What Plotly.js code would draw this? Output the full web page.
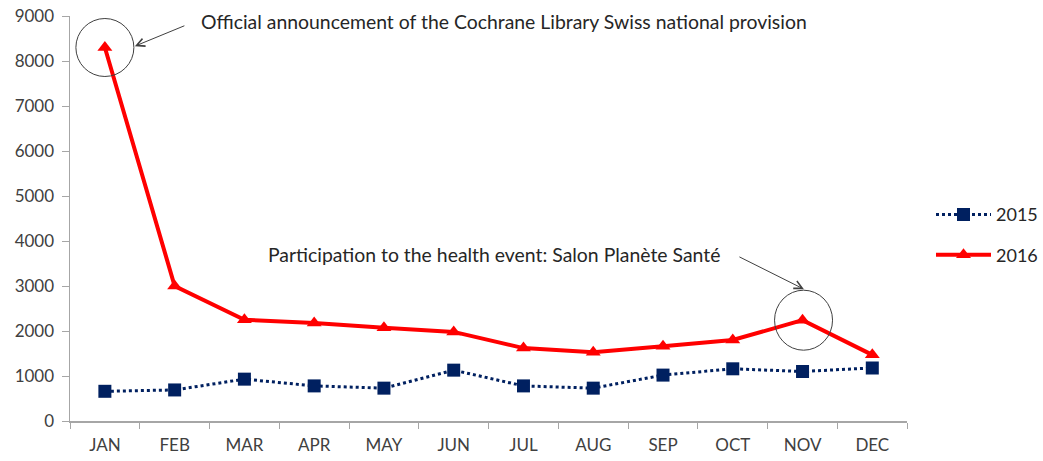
<!DOCTYPE html>
<html>
<head>
<meta charset="utf-8">
<script src="https://cdn.plot.ly/plotly-3.0.1.min.js"></script>
<style>html,body{margin:0;padding:0;background:#fff}#chart{width:1043px;height:461px}</style>
</head>
<body>
<div id="chart"></div>
<script>
const months = ["JAN","FEB","MAR","APR","MAY","JUN","JUL","AUG","SEP","OCT","NOV","DEC"];
const values2015 = [660, 690, 930, 780, 730, 1130, 780, 730, 1020, 1160, 1100, 1180];
const values2016 = [8300, 3000, 2250, 2180, 2070, 1980, 1620, 1530, 1660, 1800, 2240, 1470];
const seriesNames = ["2015", "2016"];
const yTicks = [0,1000,2000,3000,4000,5000,6000,7000,8000,9000];
const note1 = "Official announcement of the Cochrane Library Swiss national provision";
const note2 = "Participation to the health event: Salon Planète Santé";

const FONT = "Lato, 'Liberation Sans', sans-serif";
const traces = [
  {x: months, y: values2015, name: seriesNames[0], type: "scatter", mode: "lines+markers",
   legendgroup: "a",
   line: {color: "#002060", width: 3, dash: "dot"},
   marker: {symbol: "square", size: 13, color: "#002060"}},
  {x: months, y: values2016, name: seriesNames[1], type: "scatter", mode: "lines+markers",
   legendgroup: "b",
   line: {color: "#FF0000", width: 4},
   marker: {symbol: "triangle-up", size: 13, color: "#FF0000"}}
];
const layout = {
  width: 1043, height: 461,
  margin: {l: 70, r: 0, t: 16, b: 40},
  paper_bgcolor: "#fff", plot_bgcolor: "#fff",
  font: {family: FONT, size: 17, color: "#404040"},
  showlegend: true,
  legend: {x: 0.886, xanchor: "left", y: 0.46, yanchor: "middle", traceorder: "grouped",
           itemwidth: 55,
           tracegroupgap: 14, font: {size: 18, color: "#262626"}, bgcolor: "rgba(0,0,0,0)"},
  xaxis: {type: "category", domain: [0, 0.8613], showgrid: false, zeroline: false, showline: true,
          linecolor: "#A6A6A6",
          linewidth: 1.5, ticks: "outside", tickson: "boundaries", ticklen: 6, tickcolor: "#A6A6A6",
          ticklabelstandoff: 8,
          tickfont: {size: 17, color: "#404040"}, range: [-0.5, 11.5], fixedrange: true},
  yaxis: {range: [0, 9000], tickvals: yTicks, showgrid: false, zeroline: false, showline: true,
          linecolor: "#A6A6A6", linewidth: 1.5, ticks: "outside", ticklen: 7, tickcolor: "#A6A6A6",
          ticklabelstandoff: 4,
          tickfont: {size: 17, color: "#404040"}, fixedrange: true},
  shapes: [
    {type: "circle", xref: "x", yref: "y", xsizemode: "pixel", ysizemode: "pixel",
     xanchor: 0, yanchor: values2016[0], x0: -29, x1: 29, y0: -29, y1: 29,
     line: {color: "#404040", width: 1}},
    {type: "circle", xref: "x", yref: "y", xsizemode: "pixel", ysizemode: "pixel",
     xanchor: 10, yanchor: values2016[10], x0: -28, x1: 30, y0: -30, y1: 30,
     line: {color: "#404040", width: 1}}
  ],
  annotations: [
    {xref: "x", yref: "y", x: 1.35, y: 8870, xanchor: "left", yanchor: "middle", showarrow: false,
     text: note1, font: {size: 19.4, color: "#262626"}},
    {xref: "x", yref: "y", x: 0.43, y: 8330, text: "", showarrow: true, ax: 51, ay: -21,
     arrowhead: 5, arrowsize: 1.6, arrowwidth: 1, arrowcolor: "#404040"},
    {xref: "x", yref: "y", x: 2.31, y: 3710, xanchor: "left", yanchor: "middle", showarrow: false,
     text: note2, font: {size: 19.4, color: "#262626"}},
    {xref: "x", yref: "y", x: 10.02, y: 2930, text: "", showarrow: true, ax: -66, ay: -33,
     arrowhead: 5, arrowsize: 1.6, arrowwidth: 1, arrowcolor: "#404040"}
  ]
};
Plotly.newPlot("chart", traces, layout, {displayModeBar: false, staticPlot: true});
</script>
</body>
</html>
